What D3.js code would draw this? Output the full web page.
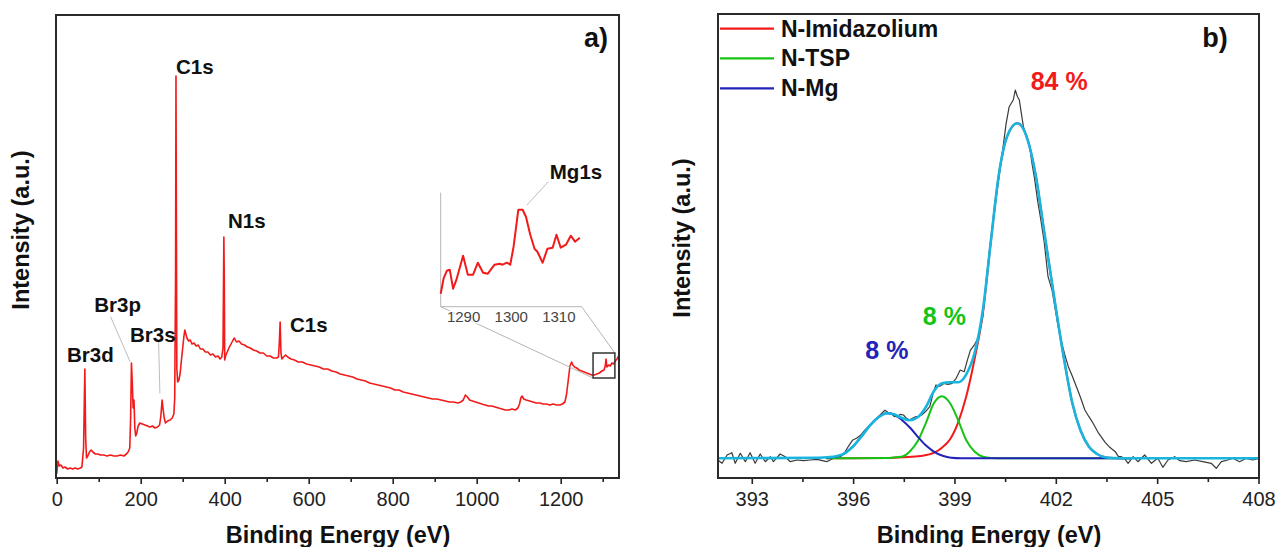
<!DOCTYPE html>
<html>
<head>
<meta charset="utf-8">
<script src="https://cdn.jsdelivr.net/npm/d3@7"></script>
<style>
	body { margin: 0; background: #fff; }
	svg { display: block; font-family: Arial, "Liberation Sans", Helvetica, sans-serif; }
</style>
</head>
<body>
<svg id="chart" width="1279" height="547"></svg>
<script>
// ---- panel a : survey spectrum (binding energy eV, intensity a.u.)
var surveyE = [0,3,6,10,15,20,26,32,38,44,50,56,60,64,67,69,71,74,78,82,86,92,98,104,112,120,128,136,144,152,160,166,170,174,176,178,180,182,184,186,188,190,194,198,204,210,216,222,228,234,240,245,248,251,253,256,259,264,270,275,279,281,283,284,285,286,288,291,294,297,300,303,305,307,310,314,318,322,327,332,337,342,348,354,360,366,372,378,384,389,393,396,398,399,400,402,406,410,415,420,423,428,434,440,447,454,461,468,476,484,492,500,508,516,524,528,530,532,534,536,540,545,550,558,566,575,585,595,605,615,625,635,645,655,665,675,685,695,705,715,725,735,745,755,765,775,785,795,805,815,825,835,845,855,865,875,885,895,905,915,925,935,945,955,962,968,973,978,983,990,997,1005,1012,1020,1028,1036,1044,1052,1060,1068,1076,1084,1092,1098,1102,1105,1108,1112,1118,1126,1134,1142,1150,1158,1166,1174,1182,1190,1198,1204,1210,1214,1218,1222,1226,1229,1233,1238,1244,1250,1256,1262,1268,1274,1280,1286,1292,1298,1303,1306,1308,1310,1314,1318,1322,1326,1330,1334,1338];
var surveyI = [4,17,12,13,10,11,9,10,9,10,9,10,11,30,109,40,20,22,26,28,26,24,24,23,23,22,23,22,22,23,22,24,26,30,60,115,95,70,78,50,42,44,52,55,54,53,52,51,52,50,51,53,62,78,70,60,55,57,58,60,64,80,200,402,250,110,96,98,105,118,130,142,148,145,140,137,138,134,135,132,133,129,129,126,126,123,124,121,122,119,121,130,241,200,118,122,126,130,134,138,140,136,137,134,133,131,130,128,127,125,125,122,122,120,120,121,135,156,125,119,121,123,121,119,118,116,116,114,113,112,111,109,109,107,106,104,103,102,101,99,98,97,95,94,93,92,91,90,88,88,86,85,84,83,82,81,80,79,79,78,77,76,76,75,76,78,83,81,78,77,76,75,74,73,72,72,71,70,69,68,68,69,68,70,74,80,82,79,78,77,76,75,75,74,74,73,74,73,73,74,76,84,98,112,116,113,111,110,108,107,106,105,104,103,103,104,105,107,108,112,119,111,113,112,115,114,117,119,122];
var surveyTicks = [0,200,400,600,800,1000,1200];
var surveyMinor = [100,300,500,700,900,1100,1300];

// inset : Mg1s region
var insetE = [1285.3,1285.9,1286.6,1287.2,1287.9,1288.6,1290.0,1291.0,1292.1,1293.1,1294.2,1295.2,1296.6,1297.7,1298.3,1299.2,1299.9,1300.6,1301.6,1302.5,1303.2,1304.1,1305.0,1305.6,1306.7,1307.7,1308.8,1309.6,1310.5,1311.6,1312.6,1313.5,1314.5];
var insetI = [13,28,36,37,18,27,51,32,32,44,34,33,42,43,42,44,42,60,97,97,90,72,58,55,44,58,59,72,59,62,71,65,69];
var insetTicks = [1290,1300,1310];

// ---- panel b : N1s high resolution
var nE = [392.0,392.12,392.27,392.41,392.51,392.66,392.81,392.95,393.10,393.25,393.40,393.55,393.64,393.84,393.99,394.14,394.34,394.53,394.73,394.93,395.22,395.42,395.62,395.74,395.86,395.98,396.1,396.22,396.34,396.46,396.58,396.7,396.82,396.94,397.03,397.12,397.21,397.3,397.4,397.49,397.58,397.67,397.76,397.85,397.94,398.03,398.15,398.27,398.36,398.45,398.57,398.69,398.81,398.93,399.05,399.17,399.29,399.38,399.47,399.6,399.72,399.84,399.96,400.08,400.2,400.32,400.44,400.53,400.62,400.74,400.80,400.86,400.92,400.98,401.04,401.14,401.23,401.28,401.37,401.46,401.55,401.65,401.77,401.89,401.98,402.07,402.19,402.28,402.37,402.49,402.61,402.74,402.86,402.98,403.07,403.16,403.25,403.34,403.46,403.58,403.67,403.76,403.85,403.94,404.03,404.14,404.29,404.43,404.63,404.83,405.02,405.17,405.32,405.52,405.67,405.86,406.11,406.35,406.6,406.75,406.9,407.09,407.24,407.44,407.64,407.83,408.0];
var nI = [-2,-5,3.3,5.6,-5,5,-3.4,5.6,-5,4.3,-3.4,1.6,-3.4,4.3,1.6,-3.4,-1.7,-2.4,-1.7,-1,-3.4,0,1.6,5,12,18,20,23,28,31.6,36,40,44,48,46,45,42,41.6,44,43.3,40,38.3,40,41.6,42,43.3,47,51.6,64,73.3,72,75,74,75,80,88.3,86.6,98,108,114,121.6,141.6,185,218,251.6,282,311.6,335,351.6,358.3,368.3,362,358.3,345,331.6,322,312,298,280,258,240,218,181.6,168,150,131.6,113.3,102,91.6,82,71.6,60,48.3,41.6,37,31.6,26,21.6,16,11.6,9,6.6,2,1.6,0,-5,1.6,-3.4,3.3,-5,0,-9,-1.7,1.6,-2.4,-3.4,-1.7,-3.4,-5,-10,-3.4,-1.7,0,-3.4,0,-1.7,0];

var fitE = [392,395.0,395.25,395.5,395.75,396.0,396.25,396.5,396.75,397.0,397.2,397.43,397.67,397.91,398.15,398.39,398.63,398.87,399.11,399.35,399.6,399.84,400.08,400.32,400.56,400.86,401.17,401.41,401.65,401.83,402.01,402.25,402.49,402.73,402.98,403.22,403.46,403.7,404.2,408];
var fitI = [0,0.5,1,2,5,12,22,33,41,45,44,40.5,38,41,51,67,75,76,76,84,106,148,218,285,322,335,318,282,228,188,148,98,55,28,11.6,4.3,1,0.3,0,0];

var imidE = [395.2,397.0,397.5,398.0,398.4,398.63,398.87,399.11,399.35,399.6,399.84,400.08,400.32,400.56,400.86,401.17,401.41,401.65,401.83,402.01,402.25,402.49,402.73,402.98,403.22,403.46,403.7,404.2];
var imidI = [0,0.3,1,2.3,5.6,10.6,19,36,62,100,145,218,285,322,335,318,282,228,188,148,98,55,28,11.6,4.3,1,0.3,0];
var tspE = [395.2,397.0,397.2,397.43,397.67,397.91,398.15,398.39,398.63,398.87,399.11,399.35,399.6,399.84,400.08,400.5,404.2];
var tspI = [0,0.3,0.8,1.5,6.6,17,35,55,62,55,38,18,6.6,1.6,0.3,0,0];
var mgE = [395.2,395.5,395.75,396.0,396.25,396.5,396.75,397.0,397.2,397.45,397.7,397.9,398.15,398.4,398.65,398.9,399.2,404.2];
var mgI = [0.5,1.5,5,12,22,33,41,45,44,38,30,22,13,6.5,2.5,0.5,0,0];

var nTicks = [393,396,399,402,405,408];
var nMinor = [394.5,397.5,400.5,403.5,406.5];

var legendNames = ['N-Imidazolium','N-TSP','N-Mg'];
var shares = ['84 %','8 %','8 %'];

var colRed = '#f21a1a', colGreen = '#14c414', colBlue = '#2323b8', colCyan = '#17b5df';

var svg = d3.select('#chart');

function pairs(xs, ys) {
	return xs.map(function(x, i) { return [x, ys[i]]; });
}

function drawAxis(g, scale, major, minor, y) {
	var minorAxis = g.append('g')
		.attr('transform', 'translate(0,' + y + ')')
		.call(d3.axisBottom(scale).tickValues(minor).tickSize(4).tickFormat(''));
	minorAxis.select('.domain').remove();
	var majorAxis = g.append('g')
		.attr('transform', 'translate(0,' + y + ')')
		.call(d3.axisBottom(scale).tickValues(major).tickSize(6).tickPadding(8).tickFormat(d3.format('d')));
	majorAxis.select('.domain').remove();
	g.selectAll('.tick line').attr('stroke', '#222').attr('stroke-width', 1.6);
	majorAxis.selectAll('text')
		.attr('font-family', 'Arial, "Liberation Sans", sans-serif')
		.attr('font-size', 20)
		.attr('fill', '#222');
}

// =========================== panel a
var xA = d3.scaleLinear().domain([0, 1338.8]).range([56.7, 619]);
var yA = d3.scaleLinear().domain([0, 463]).range([478, 15]);

var ga = svg.append('g');

ga.append('clipPath').attr('id', 'clipA')
	.append('rect').attr('x', 56).attr('y', 15).attr('width', 563).attr('height', 463);

var lineA = d3.line()
	.x(function(d) { return xA(d[0]); })
	.y(function(d) { return yA(d[1]); });

ga.append('path')
	.datum(pairs(surveyE, surveyI))
	.attr('clip-path', 'url(#clipA)')
	.attr('fill', 'none')
	.attr('stroke', colRed)
	.attr('stroke-width', 1.6)
	.attr('stroke-linejoin', 'round')
	.attr('d', lineA);

drawAxis(ga, xA, surveyTicks, surveyMinor, 478);

ga.append('rect')
	.attr('x', 56).attr('y', 15).attr('width', 563).attr('height', 463)
	.attr('fill', 'none').attr('stroke', '#2a2a2a').attr('stroke-width', 2);

// zoom box + inset
var box = [1277, 1329, 100, 125];
var inset = { left: 440.7, right: 581.7, top: 192.7, bottom: 306.7 };
var xIn = d3.scaleLinear().domain([1285.3, 1314.9]).range([inset.left, inset.right]);
var yIn = d3.scaleLinear().domain([0, 114]).range([inset.bottom, inset.top]);

ga.append('line')
	.attr('x1', inset.left).attr('y1', inset.bottom)
	.attr('x2', xA(box[0])).attr('y2', yA(box[2]))
	.attr('stroke', '#b5b5b5').attr('stroke-width', 1);
ga.append('line')
	.attr('x1', inset.right).attr('y1', inset.bottom)
	.attr('x2', xA(box[1])).attr('y2', yA(box[3]))
	.attr('stroke', '#b5b5b5').attr('stroke-width', 1);

ga.append('rect')
	.attr('x', xA(box[0])).attr('y', yA(box[3]))
	.attr('width', xA(box[1]) - xA(box[0])).attr('height', yA(box[2]) - yA(box[3]))
	.attr('fill', 'none').attr('stroke', '#333').attr('stroke-width', 1.5);

ga.append('path')
	.attr('d', 'M' + inset.left + ',' + inset.top + 'V' + inset.bottom + 'H' + inset.right)
	.attr('fill', 'none').attr('stroke', '#b5b5b5').attr('stroke-width', 1);

var insetAxis = ga.append('g')
	.attr('transform', 'translate(0,' + inset.bottom + ')')
	.call(d3.axisBottom(xIn).tickValues(insetTicks).tickSize(0).tickPadding(5).tickFormat(d3.format('d')));
insetAxis.select('.domain').remove();
insetAxis.selectAll('text')
	.attr('font-family', 'Arial, "Liberation Sans", sans-serif')
	.attr('font-size', 15)
	.attr('fill', '#444')
	.attr('stroke', '#fff').attr('stroke-width', 3).attr('paint-order', 'stroke');

ga.append('path')
	.datum(pairs(insetE, insetI))
	.attr('fill', 'none')
	.attr('stroke', colRed)
	.attr('stroke-width', 2)
	.attr('stroke-linejoin', 'round')
	.attr('d', d3.line()
		.x(function(d) { return xIn(d[0]); })
		.y(function(d) { return yIn(d[1]); }));

// peak labels
var leaders = [
	[xA(128.3), yA(161.3), xA(174.8), yA(116.3)],
	[xA(242.6), yA(136.3), xA(245.7), yA(84.7)],
	[xIn(1307.9), yIn(125), xIn(1303.4), yIn(101.7)]
];
ga.selectAll('.leader').data(leaders).enter().append('line')
	.attr('class', 'leader')
	.attr('x1', function(d) { return d[0]; }).attr('y1', function(d) { return d[1]; })
	.attr('x2', function(d) { return d[2]; }).attr('y2', function(d) { return d[3]; })
	.attr('stroke', '#bdbdbd').attr('stroke-width', 1);

var peakText = [
	['Br3d', xA(24.5), yA(116)],
	['Br3p', xA(89.5), yA(166.5)],
	['Br3s', xA(174.5), yA(136)],
	['C1s', xA(284), yA(404)],
	['N1s', xA(408), yA(250)],
	['C1s', xA(555.5), yA(146)],
	['Mg1s', xIn(1308.2), yIn(127.7)]
];
ga.selectAll('.peak').data(peakText).enter().append('text')
	.attr('class', 'peak')
	.attr('x', function(d) { return d[1]; })
	.attr('y', function(d) { return d[2]; })
	.attr('font-size', 20.5).attr('font-weight', 'bold').attr('fill', '#111')
	.text(function(d) { return d[0]; });

ga.append('text').attr('x', 596).attr('y', 37.5).attr('dy', '0.35em')
	.attr('text-anchor', 'middle').attr('font-size', 27).attr('font-weight', 'bold')
	.attr('fill', '#111').text('a)');

ga.append('text').attr('x', 338).attr('y', 535).attr('dy', '0.35em')
	.attr('text-anchor', 'middle').attr('font-size', 23.5).attr('font-weight', 'bold')
	.attr('fill', '#111').text('Binding Energy (eV)');

ga.append('text').attr('transform', 'translate(21,230) rotate(-90)').attr('dy', '0.35em')
	.attr('text-anchor', 'middle').attr('font-size', 23.5).attr('font-weight', 'bold')
	.attr('fill', '#111').text('Intensity (a.u.)');

// =========================== panel b
var xB = d3.scaleLinear().domain([392, 408]).range([718, 1258.5]);
var yB = d3.scaleLinear().domain([-19.7, 444.3]).range([478, 14]);

var gb = svg.append('g');

gb.append('clipPath').attr('id', 'clipB')
	.append('rect').attr('x', 718).attr('y', 14).attr('width', 541).attr('height', 464);

var lineB = d3.line()
	.x(function(d) { return xB(d[0]); })
	.y(function(d) { return yB(d[1]); });
var smoothB = d3.line()
	.curve(d3.curveMonotoneX)
	.x(function(d) { return xB(d[0]); })
	.y(function(d) { return yB(d[1]); });

var plotB = gb.append('g').attr('clip-path', 'url(#clipB)');

plotB.append('path')
	.datum(pairs(nE, nI))
	.attr('fill', 'none').attr('stroke', '#3a3a3a').attr('stroke-width', 1.2)
	.attr('stroke-linejoin', 'round')
	.attr('d', lineB);

var components = [
	{ xs: imidE, ys: imidI, color: colRed },
	{ xs: tspE, ys: tspI, color: colGreen },
	{ xs: mgE, ys: mgI, color: colBlue }
];
components.forEach(function(c) {
	plotB.append('path')
		.datum(pairs(c.xs, c.ys))
		.attr('fill', 'none').attr('stroke', c.color).attr('stroke-width', 2)
		.attr('d', smoothB);
});

plotB.append('path')
	.datum(pairs(fitE, fitI))
	.attr('fill', 'none').attr('stroke', colCyan).attr('stroke-width', 2.6)
	.attr('d', smoothB);

drawAxis(gb, xB, nTicks, nMinor, 478);

gb.append('rect')
	.attr('x', 718).attr('y', 14).attr('width', 541).attr('height', 464)
	.attr('fill', 'none').attr('stroke', '#2a2a2a').attr('stroke-width', 2);

// legend
var legendY = [28.7, 58.3, 88.3];
var legend = gb.selectAll('.legend').data(legendNames).enter().append('g')
	.attr('class', 'legend')
	.attr('transform', function(d, i) { return 'translate(720,' + legendY[i] + ')'; });
legend.append('line')
	.attr('x1', 0).attr('x2', 54)
	.attr('stroke', function(d, i) { return components[i].color; })
	.attr('stroke-width', 2.2);
legend.append('text')
	.attr('x', 61).attr('dy', '0.35em')
	.attr('font-size', 23).attr('font-weight', 'bold').attr('fill', '#111')
	.text(function(d) { return d; });

// percentage labels
var shareAt = [[402.1, 376.6], [398.7, 141.6], [397.0, 108.3]];
gb.selectAll('.share').data(shares).enter().append('text')
	.attr('class', 'share')
	.attr('x', function(d, i) { return xB(shareAt[i][0]); })
	.attr('y', function(d, i) { return yB(shareAt[i][1]); })
	.attr('dy', '0.35em')
	.attr('text-anchor', 'middle')
	.attr('font-size', 25).attr('font-weight', 'bold')
	.attr('fill', function(d, i) { return components[i].color; })
	.text(function(d) { return d; });

gb.append('text').attr('x', 1215).attr('y', 37.7).attr('dy', '0.35em')
	.attr('text-anchor', 'middle').attr('font-size', 27).attr('font-weight', 'bold')
	.attr('fill', '#111').text('b)');

gb.append('text').attr('x', 989).attr('y', 535).attr('dy', '0.35em')
	.attr('text-anchor', 'middle').attr('font-size', 23.5).attr('font-weight', 'bold')
	.attr('fill', '#111').text('Binding Energy (eV)');

gb.append('text').attr('transform', 'translate(682,238) rotate(-90)').attr('dy', '0.35em')
	.attr('text-anchor', 'middle').attr('font-size', 23.5).attr('font-weight', 'bold')
	.attr('fill', '#111').text('Intensity (a.u.)');
</script>
</body>
</html>
